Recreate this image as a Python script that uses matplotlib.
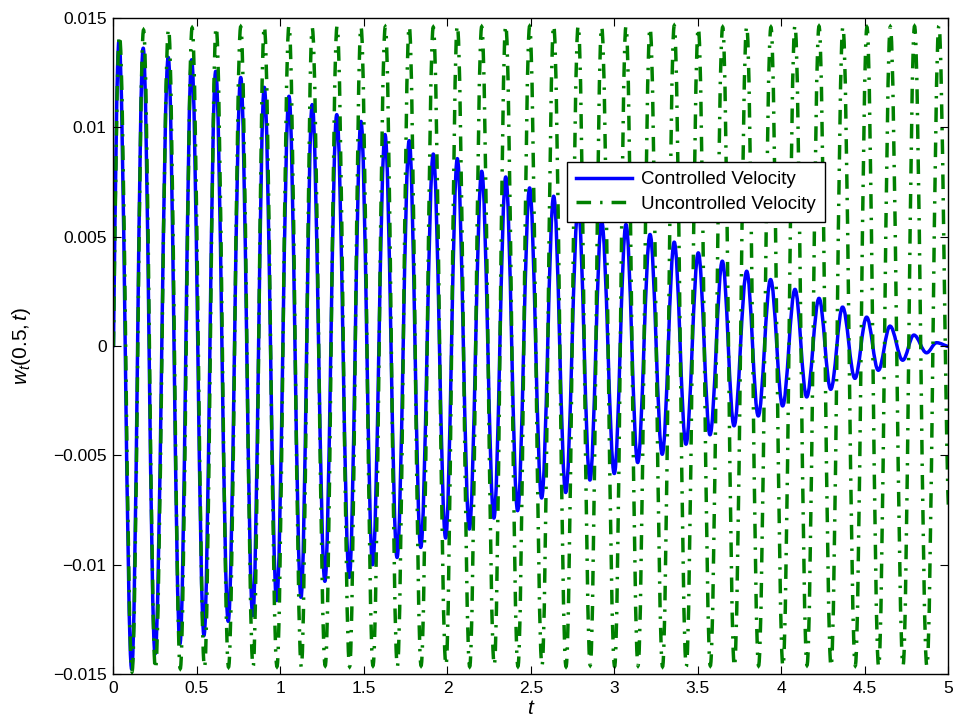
import matplotlib
matplotlib.use("Agg")
import matplotlib.pyplot as plt
from matplotlib.path import Path
from matplotlib.patches import PathPatch
from matplotlib.lines import Line2D

# ---- data (extrema of each curve) ----
ctrl_peak_t = [0.033, 0.178, 0.328, 0.468, 0.612, 0.762, 0.903, 1.051, 1.190, 1.337,
               1.482, 1.626, 1.771, 1.915, 2.059, 2.205, 2.349, 2.492, 2.636, 2.783,
               2.923, 3.069, 3.213, 3.358, 3.502, 3.646, 3.792, 3.935, 4.081, 4.225,
               4.366, 4.510, 4.650, 4.793, 4.929]
ctrl_peak_v = [0.01393, 0.01362, 0.01320, 0.01309, 0.01256, 0.01228, 0.01183, 0.01142,
               0.01104, 0.01058, 0.01027, 0.00967, 0.00939, 0.00878, 0.00857, 0.00799,
               0.00773, 0.00723, 0.00685, 0.00640, 0.00571, 0.00556, 0.00510, 0.00475,
               0.00426, 0.00388, 0.00342, 0.00304, 0.00259, 0.00218, 0.00178, 0.00132,
               0.00091, 0.00050, 0.00015]
ctrl_trough_t = [0.109, 0.249, 0.398, 0.542, 0.687, 0.834, 0.977, 1.123, 1.266, 1.412,
                 1.552, 1.698, 1.840, 1.989, 2.131, 2.278, 2.420, 2.564, 2.708, 2.853,
                 2.999, 3.139, 3.286, 3.428, 3.572, 3.716, 3.861, 4.007, 4.151, 4.295,
                 4.440, 4.580, 4.726, 4.869]
ctrl_trough_v = [-0.01478, -0.01408, -0.01362, -0.01324, -0.01259, -0.01233, -0.01164,
                 -0.01149, -0.01076, -0.01058, -0.01000, -0.00967, -0.00921, -0.00878,
                 -0.00837, -0.00787, -0.00753, -0.00695, -0.00670, -0.00613, -0.00583,
                 -0.00533, -0.00495, -0.00449, -0.00406, -0.00365, -0.00320, -0.00274,
                 -0.00233, -0.00198, -0.00148, -0.00111, -0.00065, -0.00031]
ctrl_start = (0.0, 0.0)
ctrl_end = (5.0, -0.00002)

unc_peak_t = [0.036, 0.180, 0.330, 0.471, 0.615, 0.762, 0.903, 1.051, 1.190, 1.339,
              1.482, 1.628, 1.771, 1.915, 2.059, 2.205, 2.349, 2.492, 2.636, 2.783,
              2.923, 3.069, 3.213, 3.358, 3.502, 3.648, 3.792, 3.937, 4.081, 4.225,
              4.368, 4.512, 4.652, 4.797, 4.943]
unc_peak_v = [0.01420, 0.01445, 0.01450, 0.01455, 0.01458, 0.01460, 0.01462, 0.01465,
              0.01455, 0.01462, 0.01460, 0.01460, 0.01462, 0.01458, 0.01466, 0.01460,
              0.01466, 0.01462, 0.01466, 0.01465, 0.01460, 0.01462, 0.01455, 0.01465,
              0.01455, 0.01458, 0.01462, 0.01458, 0.01466, 0.01462, 0.01460, 0.01458,
              0.01460, 0.01462, 0.01465]
unc_trough_t = [0.111, 0.251, 0.400, 0.545, 0.689, 0.836, 0.979, 1.125, 1.268, 1.414,
                1.554, 1.700, 1.842, 1.991, 2.133, 2.280, 2.422, 2.566, 2.710, 2.855,
                3.001, 3.141, 3.288, 3.430, 3.574, 3.718, 3.863, 4.009, 4.153, 4.297,
                4.442, 4.582, 4.728, 4.871]
unc_trough_v = [-0.01490, -0.01478, -0.01475, -0.01470, -0.01468, -0.01466, -0.01466,
                -0.01468, -0.01462, -0.01466, -0.01462, -0.01465, -0.01462, -0.01460,
                -0.01466, -0.01460, -0.01465, -0.01462, -0.01466, -0.01460, -0.01465,
                -0.01462, -0.01466, -0.01465, -0.01462, -0.01466, -0.01462, -0.01465,
                -0.01460, -0.01466, -0.01462, -0.01466, -0.01462, -0.01466]
unc_start = (0.0, 0.0)
unc_end = (5.0, -0.0074)

x_ticks = [0, 0.5, 1, 1.5, 2, 2.5, 3, 3.5, 4, 4.5, 5]
x_tick_labels = ["0", "0.5", "1", "1.5", "2", "2.5", "3", "3.5", "4", "4.5", "5"]
y_ticks = [-0.015, -0.01, -0.005, 0, 0.005, 0.01, 0.015]
y_tick_labels = ["\u22120.015", "\u22120.01", "\u22120.005", "0", "0.005", "0.01", "0.015"]
legend_labels = ["Controlled Velocity", "Uncontrolled Velocity"]


def merge(start, pt, pv, tt, tv, end):
    ts, vs = [start[0]], [start[1]]
    pairs = sorted(list(zip(pt, pv)) + list(zip(tt, tv)))
    for a, b in pairs:
        ts.append(a)
        vs.append(b)
    ts.append(end[0])
    vs.append(end[1])
    return ts, vs


def smooth_path(ts, vs):
    """Cubic Bezier path through the extrema, horizontal tangents at extrema."""
    k = 0.364
    verts = [(ts[0], vs[0])]
    codes = [Path.MOVETO]
    n = len(ts)
    for i in range(1, n):
        t0, v0 = ts[i - 1], vs[i - 1]
        t1, v1 = ts[i], vs[i]
        dt = t1 - t0
        if i == 1:
            c1 = (t0 + dt / 3.0, v0 + (v1 - v0) * 0.5)
        else:
            c1 = (t0 + k * dt, v0)
        if i == n - 1:
            c2 = (t1 - dt / 3.0, v1 + (v0 - v1) * 0.15)
        else:
            c2 = (t1 - k * dt, v1)
        verts += [c1, c2, (t1, v1)]
        codes += [Path.CURVE4, Path.CURVE4, Path.CURVE4]
    return Path(verts, codes)


ct, cv = merge(ctrl_start, ctrl_peak_t, ctrl_peak_v, ctrl_trough_t, ctrl_trough_v, ctrl_end)
ut, uv = merge(unc_start, unc_peak_t, unc_peak_v, unc_trough_t, unc_trough_v, unc_end)

plt.rcParams['font.family'] = ['Liberation Sans', 'DejaVu Sans']
plt.rcParams['mathtext.fontset'] = 'custom'
plt.rcParams['mathtext.rm'] = 'Liberation Sans'
plt.rcParams['mathtext.it'] = 'Liberation Sans:italic'

fig = plt.figure(figsize=(9.56, 7.25), dpi=100)
ax = fig.add_axes([0.1187, 0.0703, 0.8734, 0.9049])

blue = (0, 0, 1)
green = (0, 0.5, 0)
lw = 2.5
dash = (0, (4.2, 2.6, 0.7, 2.6))

ax.add_patch(PathPatch(smooth_path(ct, cv), facecolor='none', edgecolor=blue,
                       lw=lw, joinstyle='round', capstyle='round'))
ax.add_patch(PathPatch(smooth_path(ut, uv), facecolor='none', edgecolor=green,
                       lw=lw, linestyle=dash, capstyle='butt'))

ax.set_xlim(0, 5)
ax.set_ylim(-0.015, 0.015)
ax.set_xticks(x_ticks)
ax.set_xticklabels(x_tick_labels)
ax.set_yticks(y_ticks)
ax.set_yticklabels(y_tick_labels)
ax.tick_params(direction='in', length=6, width=0.8, top=True, right=True,
               labelsize=12.5, pad=5, colors='black')
for s in ax.spines.values():
    s.set_linewidth(1.0)
    s.set_color('black')

ax.set_xlabel(r'$\mathit{t}$', fontsize=15, labelpad=2)
ax.set_ylabel(r'$\mathit{w_t(0.5,t)}$', fontsize=15, labelpad=14)

handles = [Line2D([], [], color=blue, lw=lw),
           Line2D([], [], color=green, lw=lw, linestyle=dash)]
leg = ax.legend(handles, legend_labels, loc='upper left', bbox_to_anchor=(0.543, 0.781),
                fontsize=13.5, handlelength=3.0, fancybox=False, framealpha=1,
                edgecolor='black', borderpad=0.5, labelspacing=0.4,
                handletextpad=0.45, borderaxespad=0)
leg.get_frame().set_linewidth(1.0)

fig.savefig("out.png", dpi=100)
